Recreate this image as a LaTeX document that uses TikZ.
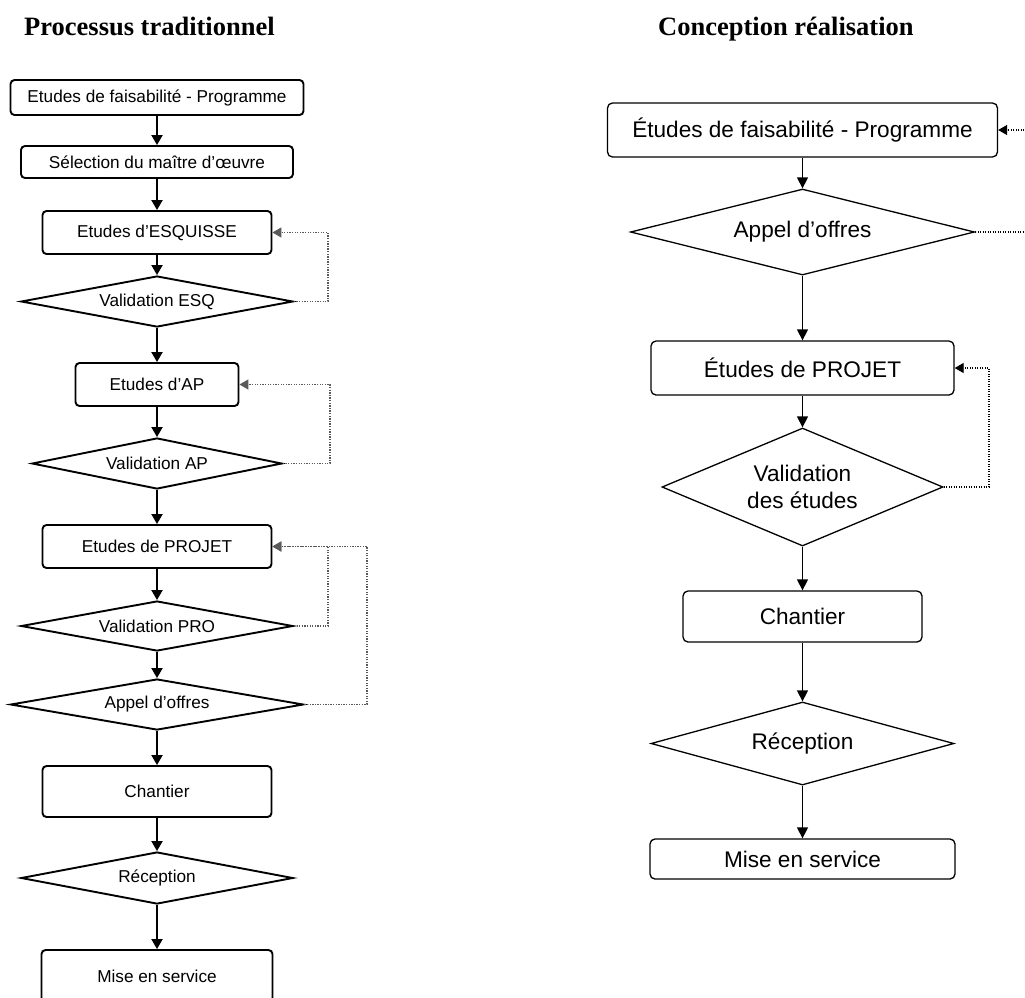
\documentclass[tikz,border=0pt]{standalone}
\usepackage{fontspec}
\setmainfont{Liberation Sans}
\newfontfamily\titlefont{Liberation Serif}
\usetikzlibrary{shapes.geometric,arrows.meta}
\begin{document}
\begin{tikzpicture}[x=1pt,y=-1pt,
  lbox/.style={draw, rectangle, rounded corners=4pt, line width=1.9pt, inner sep=0pt, font=\fontsize{17.2}{20}\selectfont},
  ldia/.style={draw, diamond, line width=1.9pt, inner sep=0pt, shape aspect=5.3, font=\fontsize{17.2}{20}\selectfont},
  rbox/.style={draw, rectangle, rounded corners=5pt, line width=1.3pt, inner sep=0pt, font=\fontsize{22.6}{27}\selectfont},
  rdia/.style={draw, diamond, line width=1.3pt, inner sep=0pt, align=center, font=\fontsize{22.6}{27}\selectfont},
  larr/.style={line width=1.9pt, -{Triangle[width=11pt,length=10pt]}},
  rarr/.style={line width=1.3pt, -{Triangle[width=11pt,length=11pt]}},
  lloop/.style={line width=1.4pt, black!65, dash pattern=on 1.3pt off 1.3pt, -{Triangle[width=10pt,length=9pt]}},
  rloop/.style={line width=1.2pt, black, dash pattern=on 1.2pt off 1.3pt, -{Triangle[width=10pt,length=9pt]}},
  ttl/.style={font=\titlefont\bfseries\fontsize{26.5}{30}\selectfont, anchor=base west, inner sep=0pt}
]
\fill[white] (0,0) rectangle (1025,997);
\useasboundingbox (0,0) rectangle (1025,997);

% titles
\node[ttl] (t1) at (24,35) {Processus traditionnel};
\node[ttl] (t2) at (658,35) {Conception réalisation};

% left column
\node[lbox, minimum width=293pt, minimum height=35pt] (b1) at (157,97.5) {Etudes de faisabilité - Programme};
\node[lbox, minimum width=272pt, minimum height=32pt] (b2) at (157,162) {Sélection du maître d’œuvre};
\node[lbox, minimum width=229pt, minimum height=43pt] (b3) at (157,232.5) {Etudes d’ESQUISSE};
\node[ldia, minimum width=272pt, minimum height=51pt] (d1) at (157,301.5) {Validation ESQ};
\node[lbox, minimum width=163pt, minimum height=43pt] (b4) at (157,384.5) {Etudes d’AP};
\node[ldia, minimum width=250pt, minimum height=51pt] (d2) at (157,463.5) {Validation AP};
\node[lbox, minimum width=229pt, minimum height=43pt] (b5) at (157,546.5) {Etudes de PROJET};
\node[ldia, minimum width=272pt, minimum height=50pt] (d3) at (157,626) {Validation PRO};
\node[ldia, minimum width=293pt, minimum height=51pt] (d4) at (157,704.5) {Appel d’offres};
\node[lbox, minimum width=229pt, minimum height=51pt] (b6) at (157,791.5) {Chantier};
\node[ldia, minimum width=272pt, minimum height=52pt] (d5) at (157,878) {Réception};
\node[lbox, minimum width=231pt, minimum height=52pt] (b7) at (157,976) {Mise en service};

\draw[larr] (b1.south) -- (b2.north);
\draw[larr] (b2.south) -- (b3.north);
\draw[larr] (b3.south) -- (d1.north);
\draw[larr] (d1.south) -- (b4.north);
\draw[larr] (b4.south) -- (d2.north);
\draw[larr] (d2.south) -- (b5.north);
\draw[larr] (b5.south) -- (d3.north);
\draw[larr] (d3.south) -- (d4.north);
\draw[larr] (d4.south) -- (b6.north);
\draw[larr] (b6.south) -- (d5.north);
\draw[larr] (d5.south) -- (b7.north);

\coordinate (c1) at (328,0);
\coordinate (c2) at (330,0);
\coordinate (c3) at (328,0);
\coordinate (c4) at (367,0);
\draw[lloop] (d1.east) -- (d1.east -| c1) -- (b3.east -| c1) -- (b3.east);
\draw[lloop] (d2.east) -- (d2.east -| c2) -- (b4.east -| c2) -- (b4.east);
\draw[lloop] (d3.east) -- (d3.east -| c3) -- (b5.east -| c3) -- (b5.east);
\draw[lloop] (d4.east) -- (d4.east -| c4) -- (b5.east -| c4) -- (b5.east);

% right column
\node[rbox, minimum width=390pt, minimum height=54pt] (r1) at (802.5,130) {Études de faisabilité - Programme};
\node[rdia, shape aspect=4, minimum width=344pt, minimum height=86pt] (r2) at (802.5,232) {Appel d’offres};
\node[rbox, minimum width=303pt, minimum height=54pt] (r3) at (802.5,368) {Études de PROJET};
\node[rdia, shape aspect=2.4, minimum width=281pt, minimum height=118pt] (r4) at (802.5,487) {Validation\\des études};
\node[rbox, minimum width=239pt, minimum height=51pt] (r5) at (802.5,616.5) {Chantier};
\node[rdia, shape aspect=3.65, minimum width=303pt, minimum height=83pt] (r6) at (802.5,743.5) {Réception};
\node[rbox, minimum width=305pt, minimum height=40pt] (r7) at (802.5,859) {Mise en service};

\draw[rarr] (r1.south) -- (r2.north);
\draw[rarr] (r2.south) -- (r3.north);
\draw[rarr] (r3.south) -- (r4.north);
\draw[rarr] (r4.south) -- (r5.north);
\draw[rarr] (r5.south) -- (r6.north);
\draw[rarr] (r6.south) -- (r7.north);

\coordinate (c5) at (1040,0);
\coordinate (c6) at (989,0);
\draw[rloop] (r2.east) -- (r2.east -| c5) -- (r1.east -| c5) -- (r1.east);
\draw[rloop] (r4.east) -- (r4.east -| c6) -- (r3.east -| c6) -- (r3.east);
\end{tikzpicture}
\end{document}
